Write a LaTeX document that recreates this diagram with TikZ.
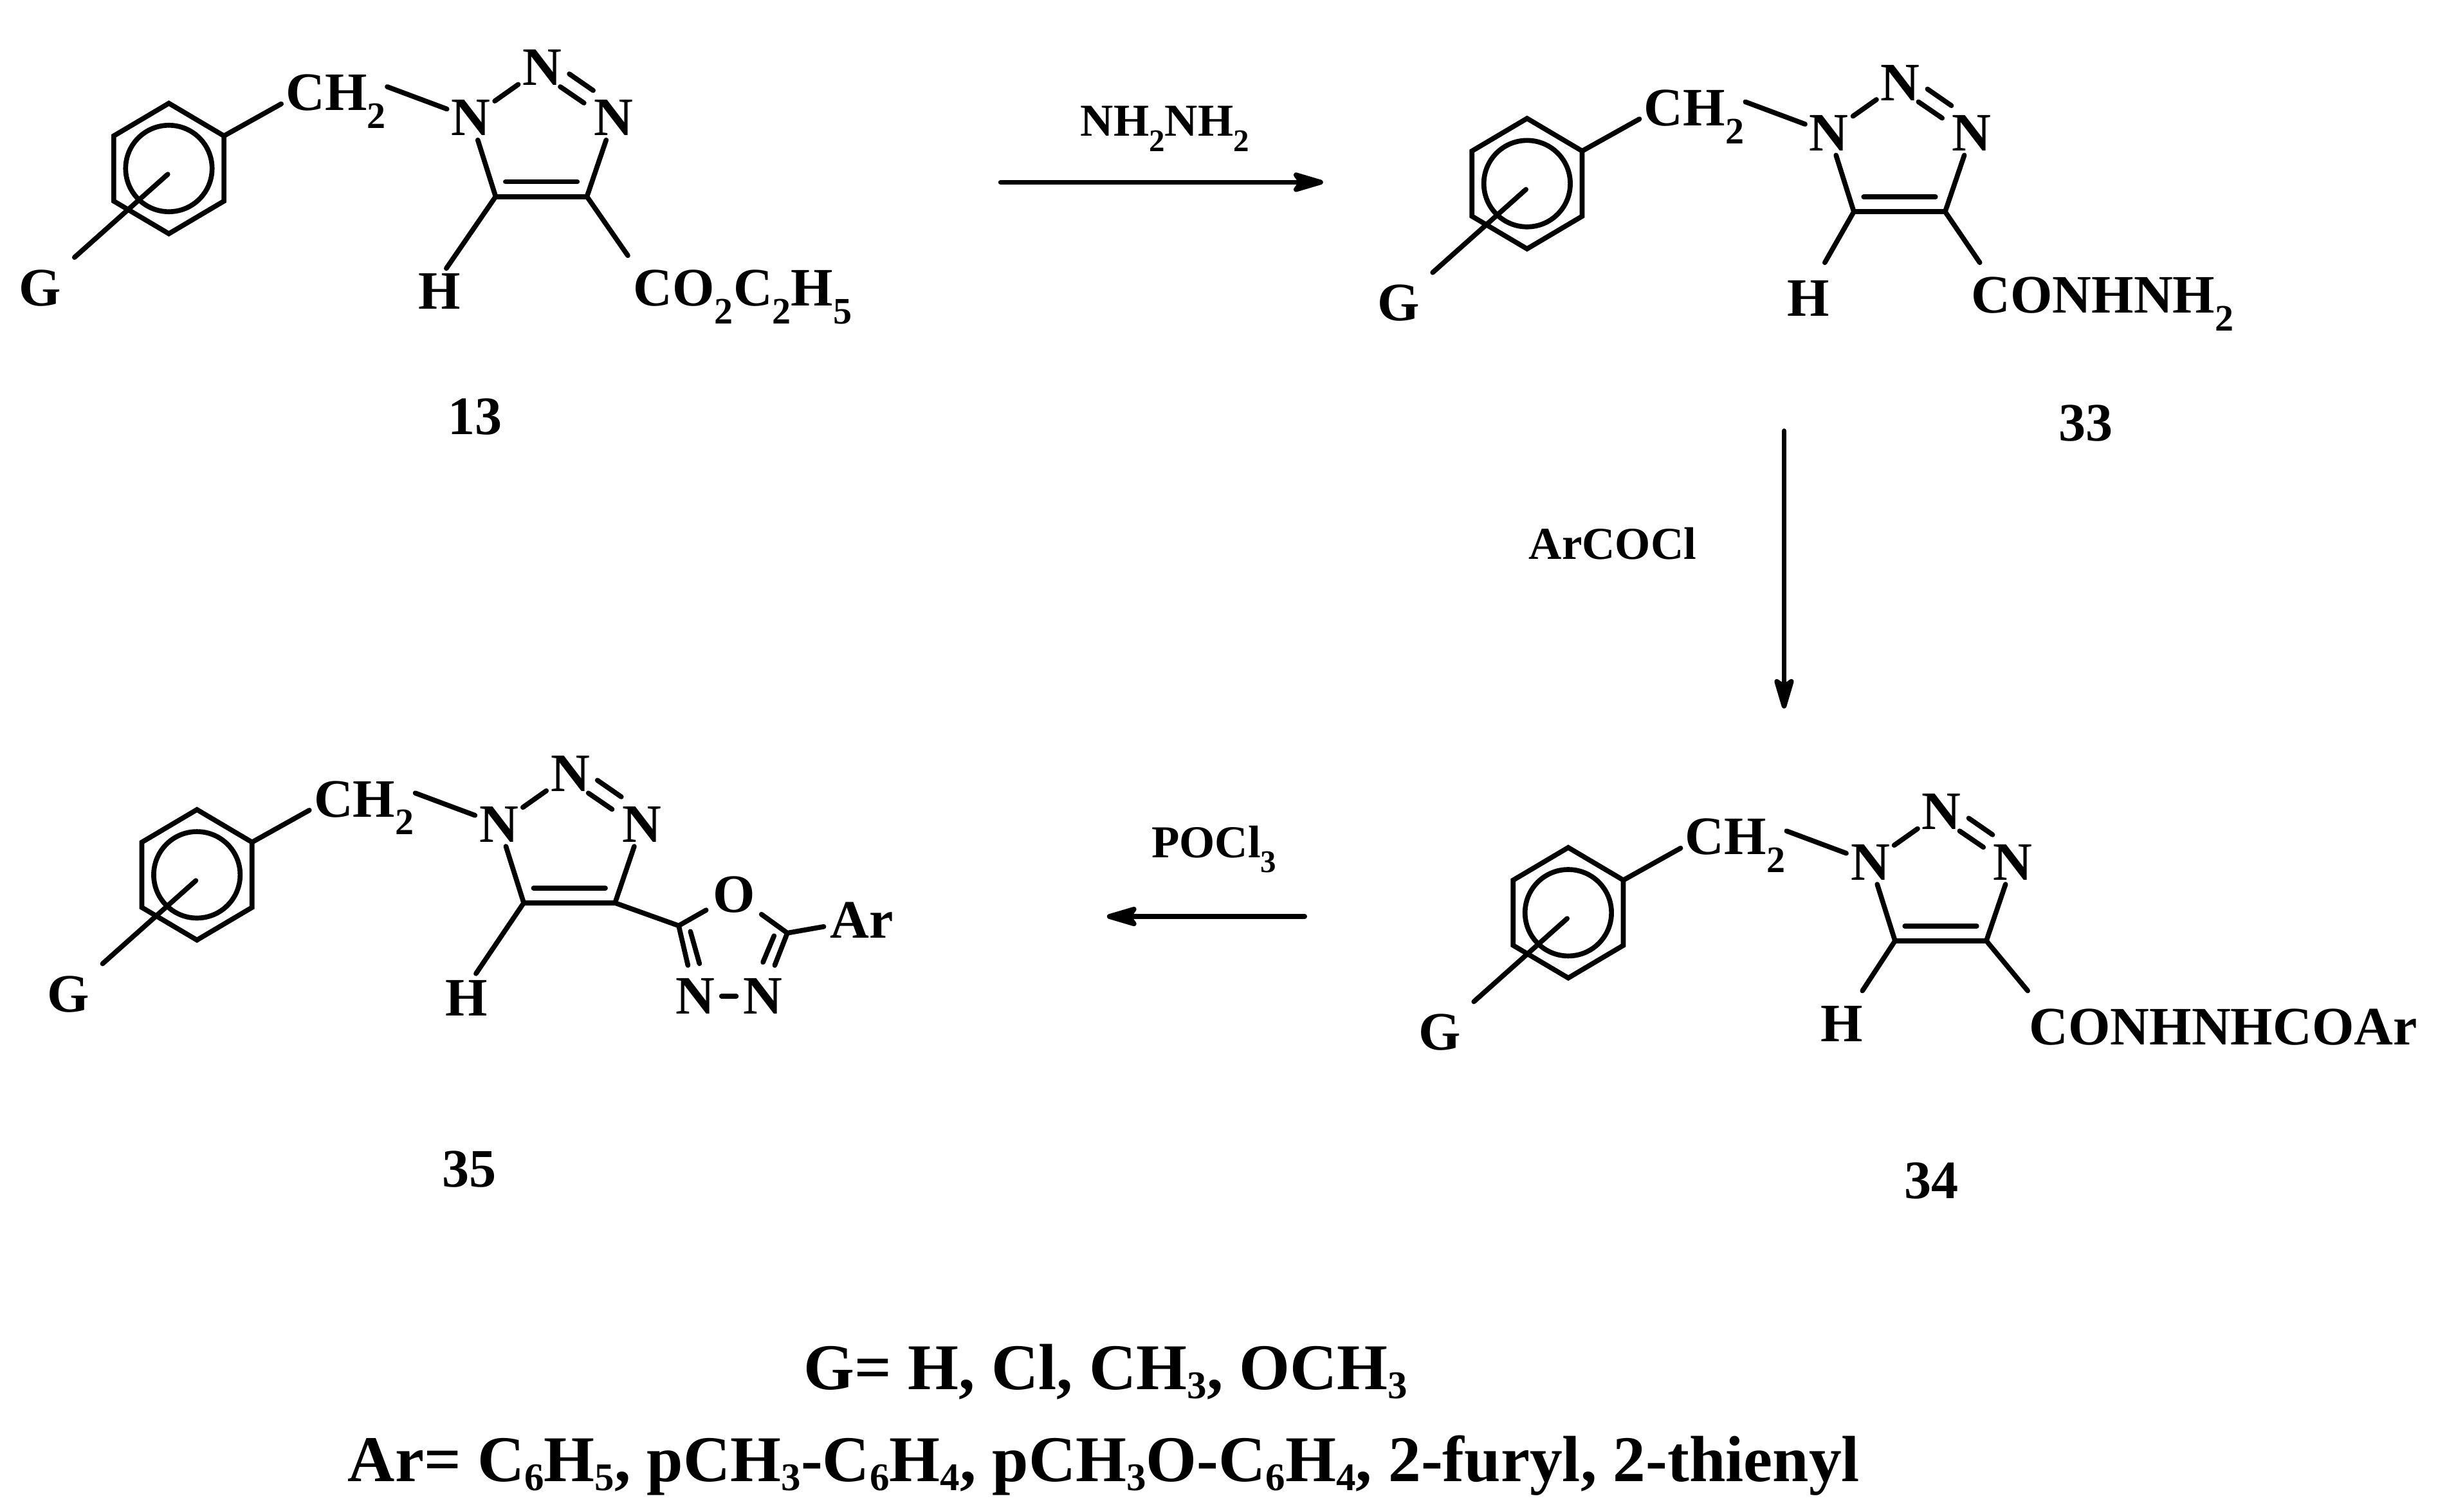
\documentclass[tikz,border=0pt]{standalone}
\usepackage{fontspec}
\setmainfont{Liberation Serif}
\usetikzlibrary{arrows.meta}
\newcommand{\hsub}[1]{\raisebox{-.33em}{\scalebox{.69}{#1}}}
\newcommand{\lsub}[1]{\raisebox{-.14em}{\scalebox{.6}{#1}}}
\tikzset{
	bond/.style={line width=.9pt,line cap=round},
	rxn/.style={line width=.9pt,line cap=round,-{Stealth[length=2.5mm,width=1.45mm,inset=.5mm,round]}},
	atom/.style={inner sep=1pt,font=\fontsize{9.87pt}{12pt}\selectfont\bfseries},
	group/.style={inner sep=0pt,anchor=base west,font=\fontsize{9.87pt}{12pt}\selectfont\bfseries},
	reagent/.style={inner sep=0pt,anchor=base west,font=\fontsize{8.33pt}{10pt}\selectfont\bfseries},
	legend/.style={inner sep=0pt,anchor=base,font=\fontsize{11.9pt}{14pt}\selectfont\bfseries},
	benzylcore/.pic={
		\foreach \a [count=\n] in {90,150,210,270,330,390}
			\coordinate (-r\n) at ([shift={(\a:.4076 and .418)}]1.082,-1.08);
		\coordinate (-ctr) at (1.075,-1.117);
		\coordinate (-C5) at (3.176,-1.26);
		\coordinate (-C4) at (3.761,-1.26);
		\coordinate (-CHl) at (1.802,-.666);
		\coordinate (-CHr) at (2.481,-.556);
		\node[atom,inner sep=2.2pt] (-G) at (.258,-1.845) {G};
		\node[group] (-CH) at (1.825,-.708) {CH\hsub{2}};
		\node[atom,inner sep=.6pt] (-N1) at (3.017,-.756) {N};
		\node[atom,inner sep=.6pt] (-N2) at (3.474,-.433) {N};
		\node[atom,inner sep=.6pt] (-N3) at (3.932,-.756) {N};
		\draw[bond,line join=miter] (-r1) -- (-r2) -- (-r3) -- (-r4) -- (-r5) -- (-r6) -- cycle;
		\draw[bond] (1.082,-1.08) circle (.277);
		\draw[bond] (-ctr) -- (-G);
		\draw[bond] (-r6) -- (-CHl);
		\draw[bond] (-CHr) -- (-N1);
		\draw[bond] (-N1) -- (-N2);
		\coordinate (-da) at (3.59,-.556);
		\coordinate (-db) at (3.742,-.66);
		\coordinate (-dc) at (3.648,-.474);
		\coordinate (-dd) at (3.801,-.58);
		\draw[bond] (-da) -- (-db);
		\draw[bond] (-dc) -- (-dd);
		\draw[bond] (-N1) -- (-C5);
		\draw[bond] (-N3) -- (-C4);
		\draw[bond] (-C5) -- (-C4);
		\coordinate (-ia) at (3.239,-1.165);
		\coordinate (-ib) at (3.699,-1.165);
		\draw[bond] (-ia) -- (-ib);
	}
}
\begin{document}
\begin{tikzpicture}
	\useasboundingbox (0,0) rectangle (15.68,-9.687);

	% ester
	\pic (m13) at (0,0) {benzylcore};
	\node[atom] (m13-H) at (2.816,-1.868) {H};
	\coordinate (m13-Hb) at (2.86,-1.72);
	\coordinate (m13-Rb) at (4.023,-1.638);
	\node[group] (m13-R) at (4.052,-1.96) {CO\hsub{2}C\hsub{2}H\hsub{5}};
	\draw[bond] (m13-C5) -- (m13-Hb);
	\draw[bond] (m13-C4) -- (m13-Rb);
	\node[atom] (n13) at (3.044,-2.67) {13};

	% hydrazide
	\pic (m33) at (8.703,-.097) {benzylcore};
	\node[atom] (m33-H) at (11.588,-1.913) {H};
	\coordinate (m33-Hb) at (11.693,-1.683);
	\coordinate (m33-Rb) at (12.686,-1.683);
	\node[group] (m33-R) at (12.625,-2.006) {CONHNH\hsub{2}};
	\draw[bond] (m33-C5) -- (m33-Hb);
	\draw[bond] (m33-C4) -- (m33-Rb);
	\node[atom] (n33) at (13.366,-2.713) {33};

	% acyl hydrazide
	\pic (m34) at (8.967,-4.77) {benzylcore};
	\node[atom] (m34-H) at (11.803,-6.562) {H};
	\coordinate (m34-Hb) at (11.934,-6.35);
	\coordinate (m34-Rb) at (12.993,-6.35);
	\node[group] (m34-R) at (12.996,-6.698) {CONHNHCOAr};
	\draw[bond] (m34-C5) -- (m34-Hb);
	\draw[bond] (m34-C4) -- (m34-Rb);
	\node[atom] (n34) at (12.378,-7.57) {34};

	% oxadiazole
	\pic (m35) at (.18,-4.527) {benzylcore};
	\node[atom] (m35-H) at (2.99,-6.398) {H};
	\coordinate (m35-Hb) at (3.05,-6.24);
	\draw[bond] (m35-C5) -- (m35-Hb);
	\coordinate (m35-Ca) at (4.349,-5.933);
	\coordinate (m35-Cb) at (5.045,-5.98);
	\node[atom] (m35-O) at (4.702,-5.732) {O};
	\node[atom,inner sep=2.2pt] (m35-Nl) at (4.454,-6.385) {N};
	\node[atom,inner sep=2.2pt] (m35-Nr) at (4.887,-6.385) {N};
	\node[atom] (m35-Ar) at (5.523,-5.896) {Ar};
	\draw[bond] (m35-C4) -- (m35-Ca);
	\draw[bond] (m35-Ca) -- (m35-O);
	\draw[bond] (m35-O) -- (m35-Cb);
	\draw[bond] (m35-Cb) -- (m35-Ar);
	\draw[bond] (m35-Ca) -- (m35-Nl);
	\draw[bond] (m35-Cb) -- (m35-Nr);
	\draw[bond,shorten <=-.4mm,shorten >=-.4mm] (m35-Nl) -- (m35-Nr);
	\coordinate (m35-ia) at (4.424,-5.97);
	\coordinate (m35-ib) at (4.482,-6.176);
	\coordinate (m35-ic) at (4.96,-5.998);
	\coordinate (m35-id) at (4.889,-6.167);
	\draw[bond] (m35-ia) -- (m35-ib);
	\draw[bond] (m35-ic) -- (m35-id);
	\node[atom] (n35) at (3.006,-7.494) {35};

	% reaction arrows
	\coordinate (a1s) at (6.412,-1.168);
	\coordinate (a1e) at (8.478,-1.168);
	\draw[rxn] (a1s) -- (a1e);
	\node[reagent] (r1) at (6.917,-.873) {NH\hsub{2}NH\hsub{2}};

	\coordinate (a2s) at (11.432,-2.762);
	\coordinate (a2e) at (11.432,-4.541);
	\draw[rxn] (a2s) -- (a2e);
	\node[reagent] (r2) at (9.79,-3.586) {ArCOCl};

	\coordinate (a3s) at (8.36,-5.874);
	\coordinate (a3e) at (7.093,-5.874);
	\draw[rxn] (a3s) -- (a3e);
	\node[reagent] (r3) at (7.372,-5.496) {POCl\hsub{3}};

	% substituents
	\node[legend] (leg1) at (7.085,-8.904) {G= H, Cl, CH\lsub{3}, OCH\lsub{3}};
	\node[legend] (leg2) at (7.073,-9.493) {Ar= C\lsub{6}H\lsub{5}, pCH\lsub{3}-C\lsub{6}H\lsub{4}, pCH\lsub{3}O-C\lsub{6}H\lsub{4}, 2-furyl, 2-thienyl};
\end{tikzpicture}
\end{document}
